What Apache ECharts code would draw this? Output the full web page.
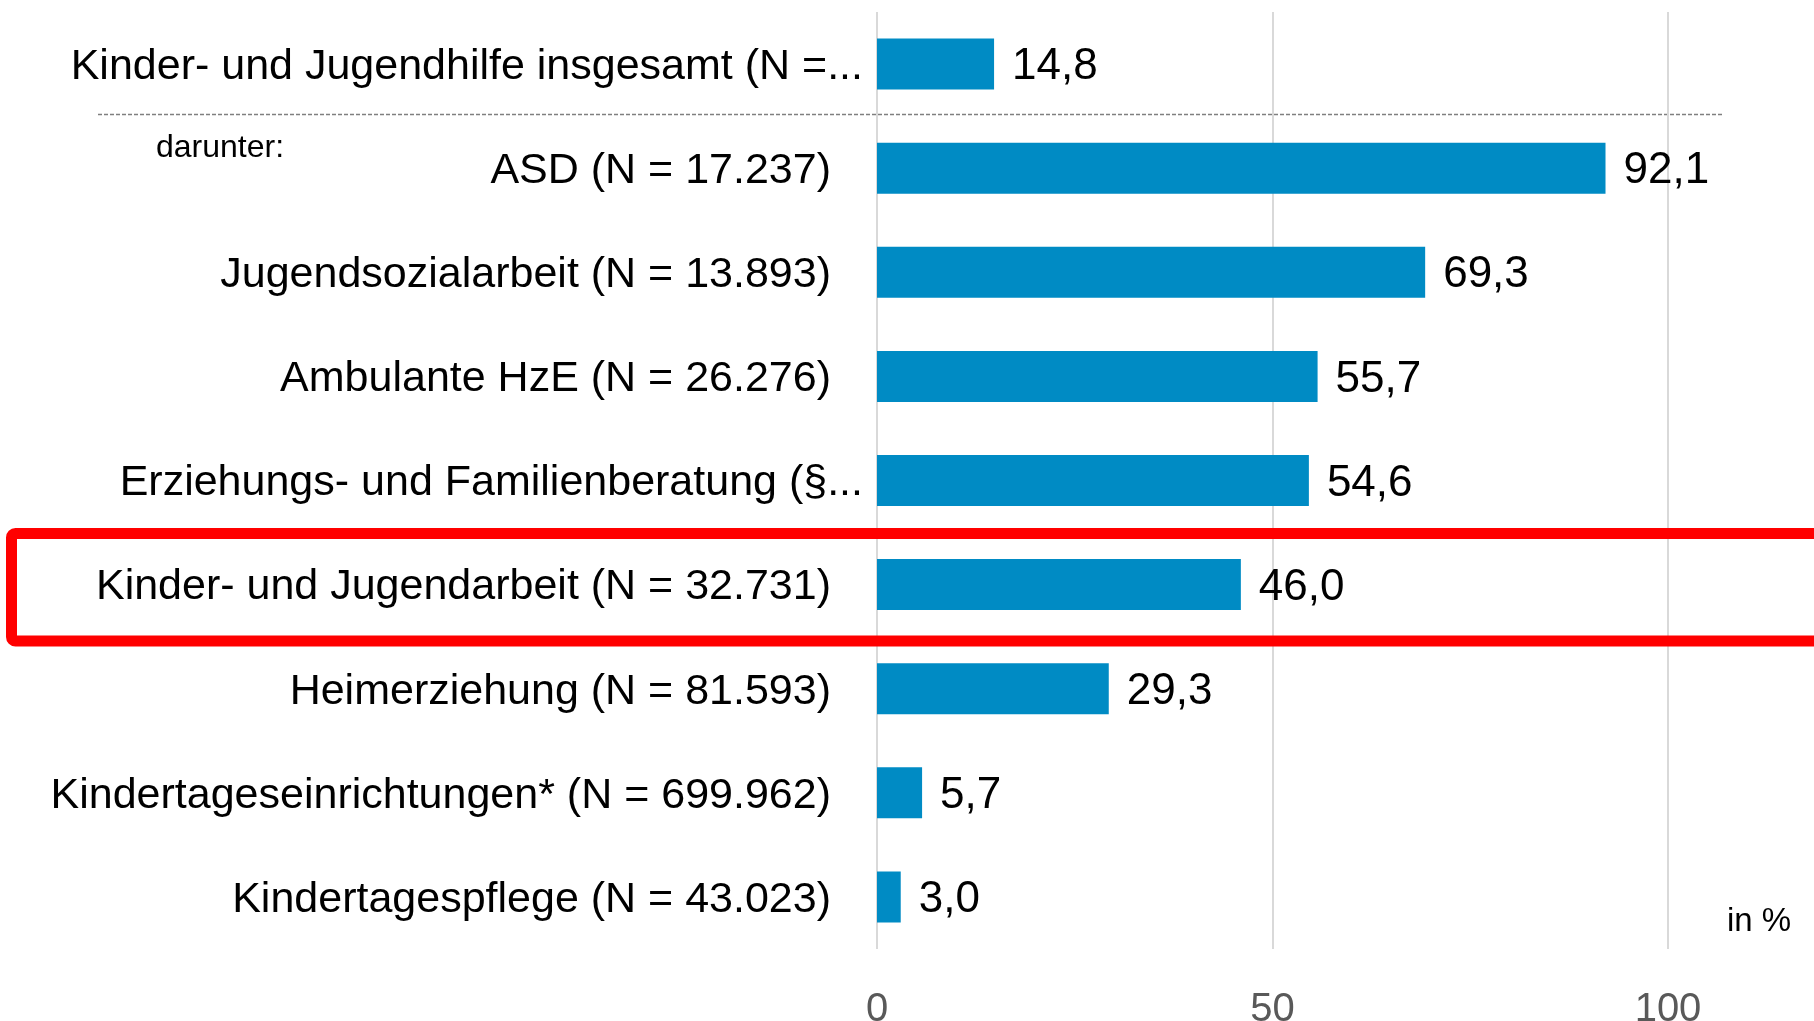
<!DOCTYPE html>
<html>
<head>
<meta charset="utf-8">
<script src="https://cdn.jsdelivr.net/npm/echarts@6/dist/echarts.min.js"></script>
<style>
  html, body { margin: 0; padding: 0; background: #fff; }
  #chart { width: 1814px; height: 1021px; }
</style>
</head>
<body>
<div id="chart"></div>
<script>
// Kategorien (von oben nach unten)
const categories = [
  'Kinder- und Jugendhilfe insgesamt (N =...',
  'ASD (N = 17.237)',
  'Jugendsozialarbeit (N = 13.893)',
  'Ambulante HzE (N = 26.276)',
  'Erziehungs- und Familienberatung (§...',
  'Kinder- und Jugendarbeit (N = 32.731)',
  'Heimerziehung (N = 81.593)',
  'Kindertageseinrichtungen* (N = 699.962)',
  'Kindertagespflege (N = 43.023)'
]
const values = [14.8, 92.1, 69.3, 55.7, 54.6, 46.0, 29.3, 5.7, 3.0]
// abgeschnittene Beschriftungen (mit "...") laufen weiter nach rechts
const truncated = [true, false, false, false, true, false, false, false, false]
const xTicks = [0, 50, 100]

const FONT = '"Liberation Sans", sans-serif'

const chart = echarts.init(document.getElementById('chart'))

const option = {
  animation: false,
  grid: {
    left: 877,
    top: 12,
    width: 791,
    height: 937,
    containLabel: false,
    outerBoundsMode: 'none'
  },
  xAxis: {
    type: 'value',
    min: xTicks[0],
    max: xTicks[xTicks.length - 1],
    interval: 50,
    axisLine: { show: false },
    axisTick: { show: false },
    axisLabel: {
      color: '#595959',
      fontFamily: FONT,
      fontSize: 40,
      margin: 41
    },
    splitLine: {
      lineStyle: { color: '#d9d9d9', width: 2 }
    }
  },
  yAxis: {
    type: 'category',
    inverse: true,
    data: categories,
    axisLine: { show: false },
    axisTick: { show: false },
    axisLabel: {
      margin: 14,
      formatter: (v, i) => truncated[i] ? '{t|' + v + '}' : '{n|' + v + '}',
      rich: {
        t: { color: '#000', fontFamily: FONT, fontSize: 43, padding: [6, 0, 0, 0] },
        n: { color: '#000', fontFamily: FONT, fontSize: 43, padding: [6, 32, 0, 0] }
      }
    }
  },
  series: [{
    type: 'bar',
    data: values,
    barWidth: '49%',
    itemStyle: { color: '#008bc4' },
    label: {
      show: true,
      position: 'right',
      distance: 18,
      offset: [0, 3],
      color: '#000',
      fontFamily: FONT,
      fontSize: 44,
      formatter: p => p.value.toFixed(1).replace('.', ',')
    }
  }],
  graphic: [
    {
      type: 'line',
      shape: { x1: 98, y1: 114.5, x2: 1724, y2: 114.5 },
      style: { stroke: '#7f7f7f', lineWidth: 1.5, lineDash: [4, 2] }
    },
    {
      type: 'text',
      left: 156,
      top: 132,
      style: { text: 'darunter:', fill: '#000', font: '32px ' + FONT }
    },
    {
      type: 'text',
      left: 1727,
      top: 905,
      style: { text: 'in %', fill: '#000', font: '33px ' + FONT }
    },
    {
      type: 'rect',
      shape: { x: 11.5, y: 533.5, width: 1900, height: 107.5, r: 4 },
      style: { fill: 'none', stroke: '#ff0000', lineWidth: 11 },
      z: 100
    }
  ]
}

chart.setOption(option)
</script>
</body>
</html>
